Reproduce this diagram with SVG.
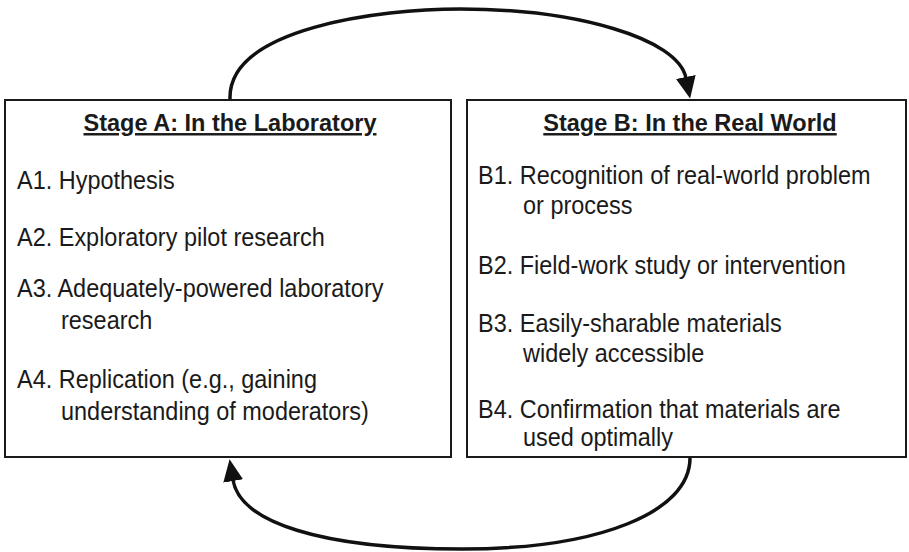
<svg xmlns="http://www.w3.org/2000/svg" width="909" height="552" viewBox="0 0 909 552">
  <style>
    .box { fill: #ffffff; stroke: #1a1a1a; stroke-width: 2; }
    .title { font-family: "Liberation Sans", Arial, sans-serif; font-size: 24.5px; font-weight: bold; fill: #1a1a1a; text-anchor: middle; text-decoration: underline; }
    .item { font-family: "Liberation Sans", Arial, sans-serif; font-size: 25.5px; fill: #1a1a1a; }
    .arc { fill: none; stroke: #111111; stroke-width: 3.5; }
  </style>
  <defs>
    <marker id="arrow" viewBox="0 0 22 20" refX="1" refY="10" markerWidth="22" markerHeight="20" markerUnits="userSpaceOnUse" orient="auto">
      <path d="M0,0 L22,10 L0,20 Z" fill="#111111"/>
    </marker>
  </defs>
  <rect width="909" height="552" fill="#ffffff"/>

  <g id="stage-a">
    <rect class="box" x="5" y="100" width="446" height="357"/>
    <text class="title" transform="translate(230,131) scale(0.96,1)">Stage A: In the Laboratory</text>
    <text class="item" transform="translate(17,189) scale(0.92,1)">A1. Hypothesis</text>
    <text class="item" transform="translate(17,246) scale(0.92,1)">A2. Exploratory pilot research</text>
    <text class="item" transform="translate(17,297) scale(0.92,1)">A3. Adequately-powered laboratory</text>
    <text class="item" transform="translate(61,329) scale(0.92,1)">research</text>
    <text class="item" transform="translate(17,388) scale(0.92,1)">A4. Replication (e.g., gaining</text>
    <text class="item" transform="translate(61,420) scale(0.92,1)">understanding of moderators)</text>
  </g>

  <g id="stage-b">
    <rect class="box" x="467" y="100" width="439" height="357"/>
    <text class="title" transform="translate(690,131) scale(0.96,1)">Stage B: In the Real World</text>
    <text class="item" transform="translate(478,184) scale(0.92,1)">B1. Recognition of real-world problem</text>
    <text class="item" transform="translate(523,214) scale(0.92,1)">or process</text>
    <text class="item" transform="translate(478,274) scale(0.92,1)">B2. Field-work study or intervention</text>
    <text class="item" transform="translate(478,332) scale(0.92,1)">B3. Easily-sharable materials</text>
    <text class="item" transform="translate(523,362) scale(0.92,1)">widely accessible</text>
    <text class="item" transform="translate(478,418) scale(0.92,1)">B4. Confirmation that materials are</text>
    <text class="item" transform="translate(523,446) scale(0.92,1)">used optimally</text>
  </g>

  <g id="connectors">
    <path class="arc" d="M230,99 C228,28 380,9 460,9 C575,9 678,38 686,78" marker-end="url(#arrow)"/>
    <path class="arc" d="M690,458 C690,512 600,549 462,549 C320,549 240,522 233,480" marker-end="url(#arrow)"/>
  </g>
</svg>
